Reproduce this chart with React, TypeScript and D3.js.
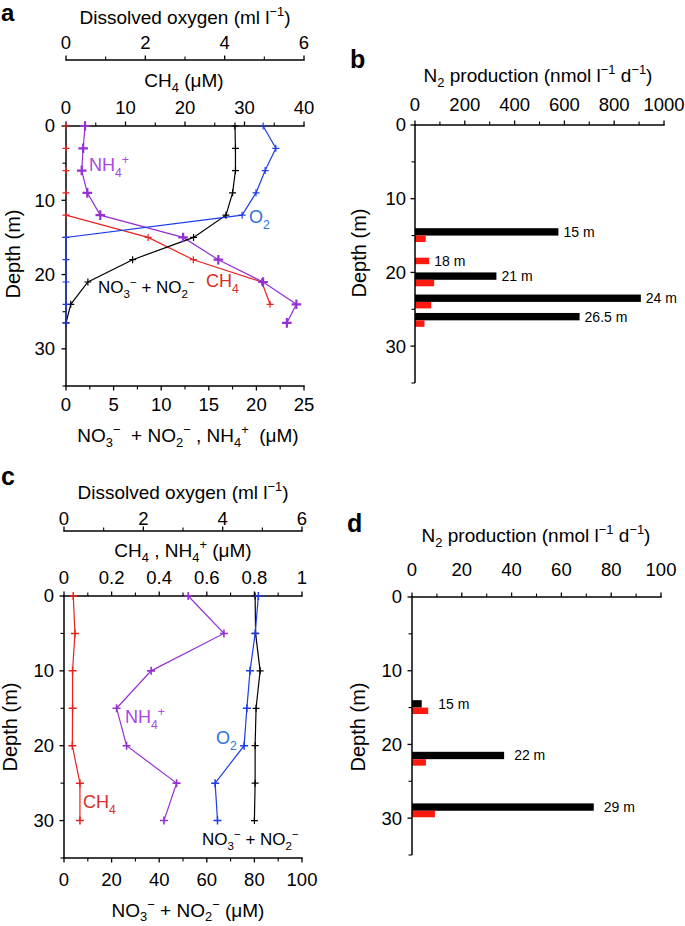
import React from 'react';
import * as d3 from 'd3';

const FONT = '"Liberation Sans", Arial, Helvetica, sans-serif';

// ---------- Panel a data ----------
const depthA = [0, 3, 6, 9, 12, 15, 18, 21, 24, 26.5];
const nh4A = [2.0, 1.8, 1.65, 2.24, 3.6, 12.3, 16.0, 20.7, 24.2, 23.2];
const no3A = [17.75, 17.8, 17.8, 17.5, 16.8, 13.4, 7.0, 2.3, 0.5, 0.0];
const o2A = [4.97, 5.29, 5.02, 4.79, 4.44, 0, 0, 0, 0, 0];
const depthCH4A = [0, 3, 6, 9, 12, 15, 18, 21, 24];
const ch4A = [0, 0, 0, 0, 0, 13.8, 21.4, 32.9, 34.3];

// ---------- Panel b data ----------
const depthB = [15, 18, 21, 24, 26.5];
const totalB = [576, 0, 327, 907, 661];
const anammoxB = [43, 57, 77, 65, 38];
const labelsB = ['15 m', '18 m', '21 m', '24 m', '26.5 m'];

// ---------- Panel c data ----------
const depthC = [0, 5, 10, 15, 20, 25, 30];
const ch4C = [0.039, 0.046, 0.036, 0.036, 0.035, 0.067, 0.067];
const nh4C = [0.522, 0.672, 0.366, 0.221, 0.263, 0.473, 0.42];
const o2C = [4.9, 4.82, 4.69, 4.61, 4.54, 3.81, 3.87];
const no3C = [80.3, 80.5, 82.4, 80.7, 80.3, 80.3, 80.0];

// ---------- Panel d data ----------
const depthD = [15, 22, 29];
const totalD = [3.9, 37, 73];
const anammoxD = [6.5, 5.6, 9.2];
const labelsD = ['15 m', '22 m', '29 m'];

// ---------- Tick values ----------
const depthMajor = [0, 10, 20, 30];
const depthMinor = [5, 15, 25, 35];
const doMajor = [0, 2, 4, 6];
const doMinor = [1, 3, 5];
const ch4AMajor = [0, 10, 20, 30, 40];
const ch4AMinor = [5, 15, 25, 35];
const nAMajor = [0, 5, 10, 15, 20, 25];
const nAMinor = [2.5, 7.5, 12.5, 17.5, 22.5];
const n2BMajor = [0, 200, 400, 600, 800, 1000];
const n2BMinor = [100, 300, 500, 700, 900];
const ch4CMajor = [0, 0.2, 0.4, 0.6, 0.8, 1];
const ch4CMinor = [0.1, 0.3, 0.5, 0.7, 0.9];
const nCMajor = [0, 20, 40, 60, 80, 100];
const nCMinor = [10, 30, 50, 70, 90];
const n2DMajor = [0, 20, 40, 60, 80, 100];
const n2DMinor = [10, 30, 50, 70, 90];

const RED = '#e8231e';
const PURPLE = '#9530d4';
const BLUE = '#1c3ce6';
const RED_L = '#d8302a';
const PURPLE_L = '#a947e8';
const BLUE_L = '#2f72e2';

type Seg = string | [string, 'sub' | 'sup'];

function Rich({ x, y, segs, fs, anchor = 'start', fill = '#000', rotate, subShift = 0.3 }: any) {
  let cur = 0;
  const kids = (segs as Seg[]).map((s, i) => {
    const [t, k] = Array.isArray(s) ? s : [s, undefined];
    const target = k === 'sub' ? fs * subShift : k === 'sup' ? -fs * 0.42 : 0;
    const dy = target - cur;
    cur = target;
    return (
      <tspan key={i} dy={dy} fontSize={k ? fs * 0.68 : fs}>
        {t}
      </tspan>
    );
  });
  return (
    <text
      x={x}
      y={y + fs * 0.35}
      fontSize={fs}
      textAnchor={anchor}
      fill={fill}
      fontFamily={FONT}
      style={{ whiteSpace: 'pre' }}
      transform={rotate ? `rotate(${rotate} ${x} ${y})` : undefined}
    >
      {kids}
    </text>
  );
}

const fmt = (v: number) => String(+v.toFixed(2));

function HAxis({ scale, y, majors, minors, dir, labelY, fs = 18.5, drawLine = true }: any) {
  const [r0, r1] = scale.range();
  return (
    <g>
      {drawLine && <line x1={r0 - 0.7} x2={r1 + 0.7} y1={y} y2={y} stroke="#000" strokeWidth={1.5} />}
      {majors.map((v: number) => (
        <line key={'M' + v} x1={scale(v)} x2={scale(v)} y1={y} y2={y + dir * 4.5} stroke="#000" strokeWidth={1.3} />
      ))}
      {minors.map((v: number) => (
        <line key={'m' + v} x1={scale(v)} x2={scale(v)} y1={y} y2={y + dir * 3.5} stroke="#000" strokeWidth={1.1} />
      ))}
      {majors.map((v: number) => (
        <text key={'t' + v} x={scale(v)} y={labelY + fs * 0.35} fontSize={fs} textAnchor="middle" fontFamily={FONT}>
          {fmt(v)}
        </text>
      ))}
    </g>
  );
}

function VAxis({ scale, x, labelGap = 10, fs = 18.5 }: any) {
  const [r0, r1] = scale.range();
  return (
    <g>
      <line x1={x} x2={x} y1={r0} y2={r1} stroke="#000" strokeWidth={1.5} />
      {depthMajor.map((v) => (
        <line key={'M' + v} x1={x} x2={x - 4.5} y1={scale(v)} y2={scale(v)} stroke="#000" strokeWidth={1.3} />
      ))}
      {depthMinor.map((v) => (
        <line key={'m' + v} x1={x} x2={x - 3.5} y1={scale(v)} y2={scale(v)} stroke="#000" strokeWidth={1.1} />
      ))}
      {depthMajor.map((v) => (
        <text key={'t' + v} x={x - labelGap} y={scale(v) + fs * 0.35} fontSize={fs} textAnchor="end" fontFamily={FONT}>
          {v}
        </text>
      ))}
    </g>
  );
}

function Profile({ depths, values, xs, ys, color, width = 1.2 }: any) {
  const pts: [number, number][] = depths.map((d: number, i: number) => [xs(values[i]), ys(d)]);
  const line = d3.line();
  return <path d={line(pts) || ''} fill="none" stroke={color} strokeWidth={width} />;
}

function Markers({ depths, values, xs, ys, color, size = 3.5, width = 1.2 }: any) {
  return (
    <g>
      {depths.map((d: number, i: number) => {
        const x = xs(values[i]);
        const y = ys(d);
        return (
          <path
            key={i}
            d={`M${x - size},${y}H${x + size}M${x},${y - size}V${y + size}`}
            stroke={color}
            strokeWidth={width}
            fill="none"
          />
        );
      })}
    </g>
  );
}

function Bars({ depths, total, anam, labels, xs, ys, gap, fs = 14 }: any) {
  const h0 = 1.0;
  const h1 = 0.88;
  return (
    <g>
      {depths.map((d: number, i: number) => {
        const yb0 = ys(d - h0);
        const yb1 = ys(d);
        const yr1 = ys(d + h1);
        const xb = xs(total[i]);
        const xr = xs(anam[i]);
        const x0 = xs(0);
        const hasBlack = total[i] > 0;
        const lx = Math.max(xb, xr) + gap;
        const ly = hasBlack ? (yb0 + yb1) / 2 : (yb1 + yr1) / 2;
        return (
          <g key={i}>
            {hasBlack && <rect x={x0} y={yb0} width={xb - x0} height={yb1 - yb0} fill="#000" />}
            <rect x={x0} y={yb1} width={xr - x0} height={yr1 - yb1} fill="#ff1a10" />
            <text x={lx} y={ly + fs * 0.35} fontSize={fs} fontFamily={FONT}>
              {labels[i]}
            </text>
          </g>
        );
      })}
    </g>
  );
}

const titleDO: Seg[] = ['Dissolved oxygen (ml l', ['−1', 'sup'], ')'];
const titleN2: Seg[] = ['N', ['2', 'sub'], ' production (nmol l', ['−1', 'sup'], ' d', ['−1', 'sup'], ')'];

function PanelA() {
  const x0 = 66, x1 = 304, y0 = 126, y1 = 386;
  const ys = d3.scaleLinear().domain([0, 35]).range([y0, y1]);
  const xDO = d3.scaleLinear().domain([0, 6]).range([x0, x1]);
  const xCH4 = d3.scaleLinear().domain([0, 40]).range([x0, x1]);
  const xN = d3.scaleLinear().domain([0, 25]).range([x0, x1]);
  return (
    <g>
      <text x={1} y={21} fontSize={24} fontWeight="bold" fontFamily={FONT}>a</text>
      <Rich x={185} y={17} segs={titleDO} fs={19} anchor="middle" />
      <HAxis scale={xDO} y={60} majors={doMajor} minors={doMinor} dir={-1} labelY={43} />
      <Rich x={184} y={80} segs={['CH', ['4', 'sub'], ' (μM)']} fs={19} anchor="middle" />
      <Profile depths={depthCH4A.slice(4)} values={ch4A.slice(4)} xs={xCH4} ys={ys} color={RED} />
      <Profile depths={depthA} values={nh4A} xs={xN} ys={ys} color={PURPLE} />
      <Profile depths={depthA} values={no3A} xs={xN} ys={ys} color="#000" />
      <HAxis scale={xCH4} y={y0} majors={ch4AMajor} minors={ch4AMinor} dir={-1} labelY={108} />
      <HAxis scale={xN} y={y1} majors={nAMajor} minors={nAMinor} dir={1} labelY={405} />
      <VAxis scale={ys} x={x0} labelGap={11} />
      <Profile depths={depthA} values={o2A} xs={xDO} ys={ys} color={BLUE} />
      <Markers depths={depthCH4A} values={ch4A} xs={xCH4} ys={ys} color={RED} />
      <Markers depths={depthA} values={no3A} xs={xN} ys={ys} color="#000" />
      <Markers depths={depthA} values={o2A} xs={xDO} ys={ys} color={BLUE} />
      <Markers depths={depthA} values={nh4A} xs={xN} ys={ys} color={PURPLE} size={4.8} width={2.2} />
      <Rich x={13} y={254} segs={['Depth (m)']} fs={20} anchor="middle" rotate={-90} />
      <Rich
        x={188}
        y={435}
        segs={['NO', ['3', 'sub'], ['−', 'sup'], '  + NO', ['2', 'sub'], ['−', 'sup'], ' , NH', ['4', 'sub'], ['+', 'sup'], '  (μM)']}
        fs={19}
        anchor="middle"
      />
      <Rich x={89} y={165} segs={['NH', ['4', 'sub'], ['+', 'sup']]} fs={18} fill={PURPLE_L} />
      <Rich x={249} y={217} segs={['O', ['2', 'sub']]} fs={18} fill={BLUE_L} />
      <Rich x={206} y={281} segs={['CH', ['4', 'sub']]} fs={18} fill={RED_L} />
      <Rich x={98} y={287} segs={['NO', ['3', 'sub'], ['−', 'sup'], ' + NO', ['2', 'sub'], ['−', 'sup']]} fs={17} />
    </g>
  );
}

function PanelB() {
  const x0 = 415, x1 = 664, y0 = 125, y1 = 383;
  const ys = d3.scaleLinear().domain([0, 35]).range([y0, y1]);
  const xs = d3.scaleLinear().domain([0, 1000]).range([x0, x1]);
  return (
    <g>
      <text x={350} y={68} fontSize={25} fontWeight="bold" fontFamily={FONT}>b</text>
      <Rich x={538} y={75} segs={titleN2} fs={19} anchor="middle" />
      <Bars depths={depthB} total={totalB} anam={anammoxB} labels={labelsB} xs={xs} ys={ys} gap={5} />
      <HAxis scale={xs} y={y0} majors={n2BMajor} minors={n2BMinor} dir={-1} labelY={105} />
      <VAxis scale={ys} x={x0} labelGap={9} />
      <Rich x={359} y={253} segs={['Depth (m)']} fs={20} anchor="middle" rotate={-90} />
    </g>
  );
}

function PanelC() {
  const x0 = 64, x1 = 302, y0 = 596, y1 = 858;
  const ys = d3.scaleLinear().domain([0, 35]).range([y0, y1]);
  const xDO = d3.scaleLinear().domain([0, 6]).range([x0, x1]);
  const xCH4 = d3.scaleLinear().domain([0, 1]).range([x0, x1]);
  const xN = d3.scaleLinear().domain([0, 100]).range([x0, x1]);
  return (
    <g>
      <text x={1} y={485} fontSize={25} fontWeight="bold" fontFamily={FONT}>c</text>
      <Rich x={183} y={492} segs={titleDO} fs={19} anchor="middle" />
      <HAxis scale={xDO} y={531} majors={doMajor} minors={doMinor} dir={-1} labelY={519} />
      <Rich x={183} y={550} segs={['CH', ['4', 'sub'], ' , NH', ['4', 'sub'], ['+', 'sup'], ' (μM)']} fs={19} anchor="middle" />
      <Profile depths={depthC} values={no3C} xs={xN} ys={ys} color="#000" />
      <Profile depths={depthC} values={ch4C} xs={xCH4} ys={ys} color={RED} />
      <Profile depths={depthC} values={nh4C} xs={xCH4} ys={ys} color={PURPLE} />
      <Profile depths={depthC} values={o2C} xs={xDO} ys={ys} color={BLUE} />
      <HAxis scale={xCH4} y={y0} majors={ch4CMajor} minors={ch4CMinor} dir={-1} labelY={578} />
      <HAxis scale={xN} y={y1} majors={nCMajor} minors={nCMinor} dir={1} labelY={880} />
      <VAxis scale={ys} x={x0} labelGap={10} />
      <Markers depths={depthC} values={no3C} xs={xN} ys={ys} color="#000" />
      <Markers depths={depthC} values={ch4C} xs={xCH4} ys={ys} color={RED} size={4} width={1.5} />
      <Markers depths={depthC} values={nh4C} xs={xCH4} ys={ys} color={PURPLE} size={4} width={1.6} />
      <Markers depths={depthC} values={o2C} xs={xDO} ys={ys} color={BLUE} size={4} width={1.5} />
      <Rich x={10} y={727} segs={['Depth (m)']} fs={20} anchor="middle" rotate={-90} />
      <Rich
        x={188}
        y={910}
        segs={['NO', ['3', 'sub'], ['−', 'sup'], ' + NO', ['2', 'sub'], ['−', 'sup'], ' (μM)']}
        fs={19}
        anchor="middle"
        subShift={0.24}
      />
      <Rich x={125} y={717} segs={['NH', ['4', 'sub'], ['+', 'sup']]} fs={18} fill={PURPLE_L} />
      <Rich x={216} y={738} segs={['O', ['2', 'sub']]} fs={18} fill={BLUE_L} />
      <Rich x={83} y={802} segs={['CH', ['4', 'sub']]} fs={18} fill={RED_L} />
      <Rich x={202} y={839} segs={['NO', ['3', 'sub'], ['−', 'sup'], ' + NO', ['2', 'sub'], ['−', 'sup']]} fs={17} />
    </g>
  );
}

function PanelD() {
  const x0 = 412, x1 = 661, y0 = 597, y1 = 855;
  const ys = d3.scaleLinear().domain([0, 35]).range([y0, y1]);
  const xs = d3.scaleLinear().domain([0, 100]).range([x0, x1]);
  return (
    <g>
      <text x={347} y={532} fontSize={25} fontWeight="bold" fontFamily={FONT}>d</text>
      <Rich x={536} y={535} segs={titleN2} fs={19} anchor="middle" />
      <Bars depths={depthD} total={totalD} anam={anammoxD} labels={labelsD} xs={xs} ys={ys} gap={10} />
      <HAxis scale={xs} y={y0} majors={n2DMajor} minors={n2DMinor} dir={-1} labelY={570} />
      <VAxis scale={ys} x={x0} labelGap={10} />
      <Rich x={358} y={727} segs={['Depth (m)']} fs={20} anchor="middle" rotate={-90} />
    </g>
  );
}

export default function App() {
  return (
    <svg
      width={685}
      height={926}
      viewBox="0 0 685 926"
      style={{ position: 'absolute', left: 0, top: 0, background: '#fff' }}
      fontFamily={FONT}
    >
      <rect width={685} height={926} fill="#fff" />
      <PanelA />
      <PanelB />
      <PanelC />
      <PanelD />
    </svg>
  );
}
